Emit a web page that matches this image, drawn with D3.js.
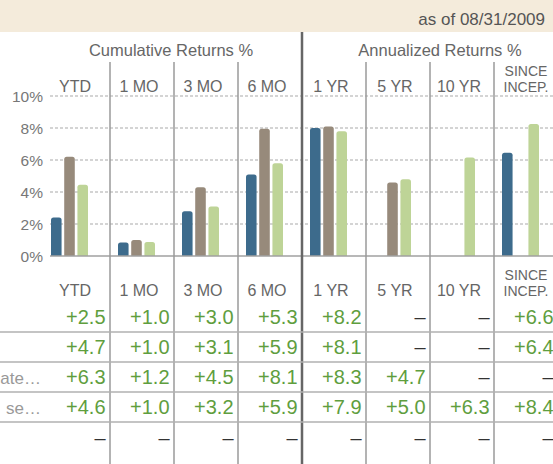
<!DOCTYPE html>
<html>
<head>
<meta charset="utf-8">
<script src="https://cdn.jsdelivr.net/npm/d3@7"></script>
<style>
  html, body { margin: 0; padding: 0; background: #fff; }
  svg { display: block; font-family: "Liberation Sans", Arial, sans-serif; }
</style>
</head>
<body>
<div id="chart"></div>
<script>
// ---------- DATA ----------
const categories = ["YTD", "1 MO", "3 MO", "6 MO", "1 YR", "5 YR", "10 YR", "SINCE INCEP."];
const seriesNames = ["Fund", "Benchmark", "Category"];
const fundValues      = [2.4, 0.85, 2.8, 5.1, 8.0, null, null, 6.45];
const benchmarkValues = [6.2, 1.0, 4.3, 7.95, 8.1, 4.6, null, null];
const categoryValues  = [4.45, 0.87, 3.1, 5.8, 7.8, 4.8, 6.15, 8.25];
const yTickValues = [0, 2, 4, 6, 8, 10];
const asOfText = "as of 08/31/2009";
const groupTitles = ["Cumulative Returns %", "Annualized Returns %"];
const rowLabels = ["", "", "ate…", "se…", ""];
const row1 = ["+2.5", "+1.0", "+3.0", "+5.3", "+8.2", "–", "–", "+6.6"];
const row2 = ["+4.7", "+1.0", "+3.1", "+5.9", "+8.1", "–", "–", "+6.4"];
const row3 = ["+6.3", "+1.2", "+4.5", "+8.1", "+8.3", "+4.7", "–", "–"];
const row4 = ["+4.6", "+1.0", "+3.2", "+5.9", "+7.9", "+5.0", "+6.3", "+8.4"];
const row5 = ["–", "–", "–", "–", "–", "–", "–", "–"];
const tableRows = [row1, row2, row3, row4, row5];

// ---------- STYLE / LAYOUT ----------
const W = 553, H = 464;
const colors = { Fund: "#3d6b8c", Benchmark: "#978a7b", Category: "#bed497" };
const seriesData = { Fund: fundValues, Benchmark: benchmarkValues, Category: categoryValues };

const svg = d3.select("#chart").append("svg").attr("width", W).attr("height", H);

const x = d3.scaleBand().domain(categories).range([46, 558]);
const inner = d3.scaleBand().domain(seriesNames).range([8, 45]).paddingInner(0.2);
const y = d3.scaleLinear().domain([0, 10]).range([256, 96]);

// beige header band
svg.append("rect").attr("x", 0).attr("y", 0).attr("width", W).attr("height", 32).attr("fill", "#f4ebdb");
svg.append("text").attr("x", 545).attr("y", 25).attr("text-anchor", "end")
  .attr("font-size", 17).attr("fill", "#555").text(asOfText);

// gridlines
svg.append("g").selectAll("line").data(yTickValues.filter(v => v > 0)).join("line")
  .attr("x1", 50).attr("x2", W).attr("y1", d => y(d)).attr("y2", d => y(d))
  .attr("stroke", "#aaa").attr("stroke-width", 1.2).attr("stroke-dasharray", "3,2");

// y axis labels
svg.append("g").selectAll("text").data(yTickValues).join("text")
  .attr("x", 43).attr("y", d => y(d) + 6).attr("text-anchor", "end")
  .attr("font-size", 15.5).attr("fill", "#777").text(d => d + "%");

// bars with rounded tops
function roundedTop(x0, y0, w, h, r) {
  r = Math.min(r, h, w / 2);
  return `M${x0},${y0 + h}V${y0 + r}Q${x0},${y0} ${x0 + r},${y0}H${x0 + w - r}Q${x0 + w},${y0} ${x0 + w},${y0 + r}V${y0 + h}Z`;
}
const barData = [];
categories.forEach((c, i) => seriesNames.forEach(s => {
  const v = seriesData[s][i];
  if (v != null) barData.push({ c, s, v });
}));
svg.append("g").selectAll("path").data(barData).join("path")
  .attr("d", d => roundedTop(x(d.c) + inner(d.s) - (d.c === "YTD" ? 3 : 0), y(d.v), inner.bandwidth(), y(0) - y(d.v), 2.5))
  .attr("fill", d => colors[d.s]);

// baseline
svg.append("line").attr("x1", 50).attr("x2", W).attr("y1", y(0)).attr("y2", y(0))
  .attr("stroke", "#a0a0a0").attr("stroke-width", 1.5);

// column separators
const thinSeps = categories.slice(1).filter(c => c !== "1 YR");
svg.append("g").selectAll("line").data(thinSeps).join("line")
  .attr("x1", d => x(d)).attr("x2", d => x(d)).attr("y1", 62).attr("y2", H)
  .attr("stroke", "#9a9a9a").attr("stroke-width", 1.5);
svg.append("line").attr("x1", x("1 YR")).attr("x2", x("1 YR")).attr("y1", 32).attr("y2", H)
  .attr("stroke", "#666").attr("stroke-width", 2.5);

// group titles
svg.append("text").attr("x", (x("YTD") + x("1 YR")) / 2 - 3).attr("y", 56).attr("text-anchor", "middle")
  .attr("font-size", 16.5).attr("fill", "#666").text(groupTitles[0]);
svg.append("text").attr("x", x("1 YR") + x.step() * 2 + 10).attr("y", 56).attr("text-anchor", "middle")
  .attr("font-size", 16.5).attr("fill", "#666").text(groupTitles[1]);

// column headers (chart and table)
function headers(baseline) {
  const g = svg.append("g");
  categories.forEach(c => {
    const cx = x(c) + x.bandwidth() / 2 - 3;
    const parts = c === "SINCE INCEP." ? ["SINCE", "INCEP."] : [c];
    const t = g.append("text").attr("text-anchor", "middle")
      .attr("font-size", parts.length > 1 ? 14 : 16).attr("fill", "#666");
    parts.forEach((p, k) => {
      t.append("tspan").attr("x", parts.length > 1 ? cx + 3 : cx)
        .attr("y", baseline - (parts.length - 1 - k) * 16).text(p);
    });
  });
}
headers(92);
headers(296);

// table
const rowBaselines = [324, 354, 384, 414, 445];
const g = svg.append("g");
tableRows.forEach((row, ri) => {
  row.forEach((val, ci) => {
    const dash = val === "–";
    g.append("text").attr("x", x(categories[ci]) + x.bandwidth() - 4.5).attr("y", rowBaselines[ri])
      .attr("text-anchor", "end").attr("font-size", 20)
      .attr("fill", dash ? "#333" : "#5f9e3e").text(val);
  });
  if (rowLabels[ri]) {
    g.append("text").attr("x", 41).attr("y", rowBaselines[ri]).attr("text-anchor", "end")
      .attr("font-size", 17).attr("fill", "#999").text(rowLabels[ri]);
  }
  if (ri < tableRows.length - 1) {
    g.append("line").attr("x1", 0).attr("x2", W)
      .attr("y1", rowBaselines[ri] + 8).attr("y2", rowBaselines[ri] + 8)
      .attr("stroke", "#b0b0b0").attr("stroke-width", 1.3);
  }
});
</script>
</body>
</html>
